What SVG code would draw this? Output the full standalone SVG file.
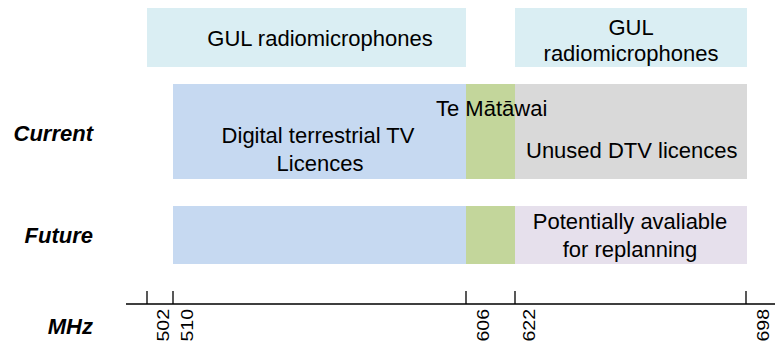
<svg xmlns="http://www.w3.org/2000/svg" width="775" height="345" viewBox="0 0 775 345">
  <style>
    text { font-family: "Liberation Sans", Arial, sans-serif; font-size: 22px; fill: #000; }
    .mid { text-anchor: middle; }
    .row { font-weight: bold; font-style: italic; text-anchor: end; }
    .tick { text-anchor: end; font-size: 17px; }
    .gul { fill: #daeef3; }
    .dtv { fill: #c6d9f1; }
    .tm { fill: #c3d69b; }
    .unused { fill: #d9d9d9; }
    .avail { fill: #e6e0ec; }
    .axis { stroke: #000; stroke-width: 1.3; fill: none; }
  </style>

  <!-- Row labels -->
  <g id="row-labels">
    <text class="row" x="93" y="141">Current</text>
    <text class="row" x="93" y="243">Future</text>
    <text class="row" x="93" y="334">MHz</text>
  </g>

  <!-- Top band: GUL radiomicrophones -->
  <g id="gul-left">
    <rect class="gul" x="147" y="8" width="319" height="59"/>
    <text class="mid" x="320" y="46">GUL radiomicrophones</text>
  </g>
  <g id="gul-right">
    <rect class="gul" x="515" y="8" width="232" height="59"/>
    <text class="mid" x="631" y="35">GUL</text>
    <text class="mid" x="631" y="61">radiomicrophones</text>
  </g>

  <!-- Current allocation -->
  <g id="current-dtv">
    <rect class="dtv" x="173" y="84" width="293" height="95"/>
    <text class="mid" x="318" y="143">Digital terrestrial TV</text>
    <text class="mid" x="320" y="171">Licences</text>
  </g>
  <g id="current-te-matawai">
    <rect class="tm" x="466" y="84" width="49" height="95"/>
  </g>
  <g id="current-unused">
    <rect class="unused" x="515" y="84" width="232" height="95"/>
    <text x="526" y="158">Unused DTV licences</text>
  </g>
  <g id="te-matawai-label">
    <text x="436" y="116">Te Mātāwai</text>
  </g>

  <!-- Future allocation -->
  <g id="future-dtv">
    <rect class="dtv" x="173" y="206" width="293" height="58"/>
  </g>
  <g id="future-te-matawai">
    <rect class="tm" x="466" y="206" width="49" height="58"/>
  </g>
  <g id="future-available">
    <rect class="avail" x="515" y="206" width="232" height="58"/>
    <text class="mid" x="630" y="229">Potentially avaliable</text>
    <text class="mid" x="630" y="257">for replanning</text>
  </g>

  <!-- Frequency axis (MHz), labels set vertically under each tick -->
  <g id="axis">
    <path class="axis" d="M126 304H775M147 291V304M173 291V304M466 291V304M515 291V304M746 291V304"/>
    <text class="tick" transform="translate(169,309) rotate(-90) scale(1.15,1)">502</text>
    <text class="tick" transform="translate(193,309) rotate(-90) scale(1.15,1)">510</text>
    <text class="tick" transform="translate(489,309) rotate(-90) scale(1.15,1)">606</text>
    <text class="tick" transform="translate(535,309) rotate(-90) scale(1.15,1)">622</text>
    <text class="tick" transform="translate(769,309) rotate(-90) scale(1.15,1)">698</text>
  </g>
</svg>
